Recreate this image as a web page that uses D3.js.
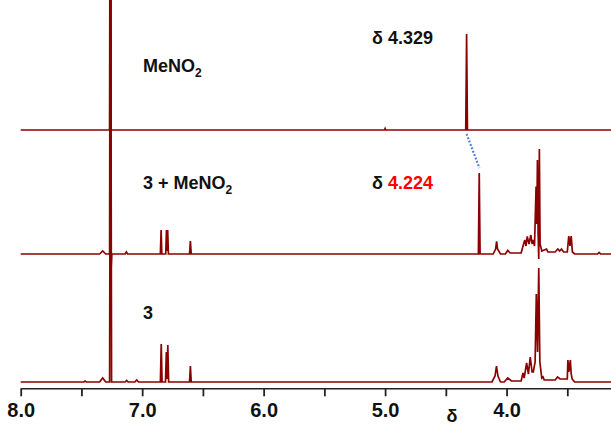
<!DOCTYPE html>
<html>
<head>
<meta charset="utf-8">
<script src="https://cdn.jsdelivr.net/npm/d3@7"></script>
<style>
  html, body { margin: 0; padding: 0; background: #fff; }
  svg { display: block; }
  text { font-family: "Liberation Sans", Arial, sans-serif; font-weight: bold; }
</style>
</head>
<body>
<svg id="chart" width="611" height="428"></svg>
<script>
// ---- data (ppm, intensity) ----
const axisTicks = [8.0, 7.5, 7.0, 6.5, 6.0, 5.5, 5.0, 4.5, 4.0, 3.5];
const axisLabels = ["8.0", "", "7.0", "", "6.0", "", "5.0", "", "4.0", ""];

const specMeNO2 = [
  [8.0,0],[7.268,0],[7.262,500],[7.256,0],[5.005,0],[5.0,1.5],[4.995,0],
  [4.336,0],[4.329,96],[4.322,0],[3.14,0]
];

const specMix = [
  [8.0,0],[7.35,0],[7.325,3],[7.30,0],[7.268,0],[7.262,500],[7.256,-16],[7.25,0],
  [7.14,0],[7.13,2],[7.12,0],[6.85,0],[6.844,24],[6.838,0],[6.806,0],[6.800,24],
  [6.794,3],[6.790,24],[6.784,0],[6.61,0],[6.603,13],[6.596,0],
  [4.232,0],[4.225,81],[4.218,0],[4.11,0],[4.09,5],[4.082,12.6],[4.074,5],[4.05,0],
  [4.01,0],[3.99,3.6],[3.97,1],[3.88,1],[3.86,10],[3.85,14],[3.84,8],[3.83,17.6],
  [3.815,10],[3.80,19],[3.79,10],[3.78,14],[3.77,8],[3.757,67.6],[3.751,30],
  [3.746,94],[3.740,20],[3.735,-5],[3.73,105],[3.724,10],[3.71,3],[3.671,5],
  [3.66,2],[3.60,2],[3.578,5],[3.563,3],[3.548,5],[3.53,2],[3.50,2],[3.488,18],
  [3.478,8],[3.468,18],[3.458,2],[3.44,0],[3.25,0],[3.238,1.5],[3.225,0],[3.14,0]
];

const spec3 = [
  [8.0,0],[7.48,0],[7.47,1],[7.46,0],[7.35,0],[7.325,4],[7.30,0],[7.268,0],
  [7.26,500],[7.252,0],[7.14,0],[7.128,1.5],[7.115,0],[7.06,0],[7.045,2],[7.03,0],
  [6.85,0],[6.843,38],[6.836,0],[6.808,0],[6.801,30],[6.794,3],[6.789,37],[6.782,0],
  [6.61,0],[6.603,16],[6.596,0],[4.12,0],[4.095,6],[4.083,16],[4.071,6],[4.05,0],
  [4.02,0],[3.99,4],[3.96,1],[3.88,1],[3.865,9],[3.855,4],[3.835,19],[3.82,8],
  [3.805,25],[3.79,10],[3.78,10],[3.765,20],[3.755,88],[3.745,30],[3.735,114],
  [3.726,20],[3.71,4],[3.70,5],[3.69,2],[3.60,2],[3.58,5],[3.56,3],[3.50,3],
  [3.495,22],[3.487,10],[3.475,22],[3.468,8],[3.46,3],[3.44,0],[3.14,0]
];

const shiftFree = 4.329;
const shiftMix = 4.224;
const mixPeakHeight = 81;

// ---- layout ----
const svg = d3.select("#chart");
const W = 611, H = 428;
const axisY = 388.3;
const x = d3.scaleLinear().domain([8.0, 3.5]).range([20.7, 567.3]);
const xMin = 3.142;
const y = d3.scaleLinear().domain([0, 100]).range([0, -100]);

const baselines = [130, 254, 382];
const spectra = [specMeNO2, specMix, spec3];
const red = "#8b0000";

svg.append("defs").append("clipPath").attr("id", "clipArea")
  .append("rect").attr("x", 0).attr("y", 0).attr("width", W).attr("height", axisY - 1);

const line = d3.line().x(d => x(d[0])).y(d => y(d[1]));

const g = svg.append("g").attr("clip-path", "url(#clipArea)");
spectra.forEach((s, i) => {
  g.append("path")
    .datum(s)
    .attr("transform", `translate(0,${baselines[i]})`)
    .attr("d", line)
    .attr("fill", "none")
    .attr("stroke", red)
    .attr("stroke-width", 1.7)
    .attr("stroke-linejoin", "miter");
});

// dotted connector between the two MeNO2 signals
svg.append("line")
  .attr("x1", x(shiftFree)).attr("y1", baselines[0] + 4)
  .attr("x2", x(shiftMix)).attr("y2", baselines[1] + y(mixPeakHeight) - 5)
  .attr("stroke", "#4a7fd4")
  .attr("stroke-width", 2.2)
  .attr("stroke-dasharray", "1.8 1.8");

// axis
const xAxisScale = d3.scaleLinear().domain([8.0, xMin]).range([x(8.0), x(xMin)]);
const axis = d3.axisBottom(xAxisScale)
  .tickValues(axisTicks)
  .tickFormat((d, i) => axisLabels[i])
  .tickSizeInner(8)
  .tickSizeOuter(0)
  .tickPadding(7);
const ga = svg.append("g").attr("transform", `translate(0,${axisY})`).call(axis);
ga.select(".domain").attr("stroke", "#222").attr("stroke-width", 1.6);
ga.selectAll(".tick line").attr("stroke", "#222").attr("stroke-width", 1.8);
ga.selectAll(".tick text")
  .attr("fill", "#111")
  .style("font-size", "20px")
  .style("font-weight", "bold")
  .style("font-family", "'Liberation Sans', Arial, sans-serif");

svg.append("text")
  .attr("x", 452).attr("y", 422)
  .attr("text-anchor", "middle")
  .style("font-size", "18px")
  .attr("fill", "#111")
  .text("δ");

// labels
function chemLabel(xp, yp, parts) {
  const t = svg.append("text").attr("x", xp).attr("y", yp)
    .style("font-size", "18px").attr("fill", "#111");
  parts.forEach(p => {
    const ts = t.append("tspan").text(p.t);
    if (p.sub) ts.style("font-size", "12px").attr("dy", 5);
  });
}
chemLabel(143, 72, [{t: "MeNO"}, {t: "2", sub: true}]);
chemLabel(143, 188.5, [{t: "3 + MeNO"}, {t: "2", sub: true}]);
chemLabel(143, 319, [{t: "3"}]);

svg.append("text").attr("x", 372).attr("y", 44)
  .style("font-size", "18px").attr("fill", "#111")
  .text("δ " + shiftFree.toFixed(3));

const t2 = svg.append("text").attr("x", 372).attr("y", 189)
  .style("font-size", "18px").attr("fill", "#111");
t2.append("tspan").text("δ ");
t2.append("tspan").attr("fill", "#ff0000").text(shiftMix.toFixed(3));
</script>
</body>
</html>
